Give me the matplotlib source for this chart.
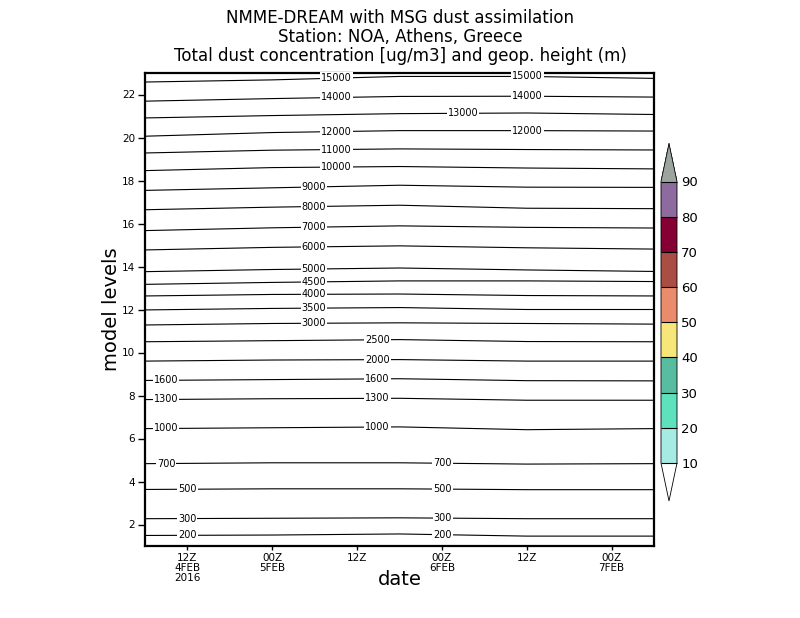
import numpy as np
import matplotlib
matplotlib.use("Agg")
import matplotlib.pyplot as plt
from matplotlib.colors import ListedColormap, BoundaryNorm
from matplotlib.cm import ScalarMappable

# time axis: hours after 06Z 4 Feb 2016
hours = [0, 18, 36, 54, 72]

# geopotential height contours (m) and the model level they sit on at each time
heights = [200, 300, 500, 700, 1000, 1300, 1600, 2000, 2500, 3000, 3500, 4000,
           4500, 5000, 6000, 7000, 8000, 9000, 10000, 11000, 12000, 13000,
           14000, 15000]
lev_200 = [1.49, 1.51, 1.56, 1.46, 1.46]
lev_300 = [2.27, 2.29, 2.31, 2.27, 2.27]
lev_500 = [3.63, 3.66, 3.66, 3.62, 3.62]
lev_700 = [4.83, 4.87, 4.87, 4.81, 4.83]
lev_1000 = [6.46, 6.50, 6.54, 6.41, 6.46]
lev_1300 = [7.81, 7.85, 7.87, 7.78, 7.78]
lev_1600 = [8.70, 8.74, 8.78, 8.69, 8.68]
lev_2000 = [9.60, 9.65, 9.67, 9.60, 9.60]
lev_2500 = [10.50, 10.55, 10.60, 10.51, 10.50]
lev_3000 = [11.28, 11.35, 11.38, 11.35, 11.32]
lev_3500 = [11.98, 12.05, 12.09, 12.00, 12.00]
lev_4000 = [12.63, 12.70, 12.72, 12.65, 12.63]
lev_4500 = [13.17, 13.26, 13.33, 13.33, 13.30]
lev_5000 = [13.76, 13.86, 13.93, 13.84, 13.77]
lev_6000 = [14.77, 14.89, 14.96, 14.87, 14.81]
lev_7000 = [15.67, 15.80, 15.89, 15.82, 15.79]
lev_8000 = [16.64, 16.76, 16.85, 16.71, 16.69]
lev_9000 = [17.54, 17.66, 17.78, 17.69, 17.68]
lev_10000 = [18.46, 18.60, 18.65, 18.58, 18.54]
lev_11000 = [19.28, 19.41, 19.47, 19.44, 19.42]
lev_12000 = [20.06, 20.23, 20.32, 20.32, 20.30]
lev_13000 = [20.91, 21.02, 21.11, 21.14, 21.07]
lev_14000 = [21.69, 21.81, 21.91, 21.92, 21.88]
lev_15000 = [22.58, 22.68, 22.84, 22.84, 22.75]
contour_levels = [lev_200, lev_300, lev_500, lev_700, lev_1000, lev_1300,
                  lev_1600, lev_2000, lev_2500, lev_3000, lev_3500, lev_4000,
                  lev_4500, lev_5000, lev_6000, lev_7000, lev_8000, lev_9000,
                  lev_10000, lev_11000, lev_12000, lev_13000, lev_14000,
                  lev_15000]

# dust colour scale (ug/m3)
dust_bounds = [10, 20, 30, 40, 50, 60, 70, 80, 90]
dust_colors = ['#a6eae4', '#5ee2be', '#58bca0', '#f7e67a', '#ea8c6c',
               '#aa4d44', '#850033', '#8e6b9e']

xtick_hours = [6, 18, 30, 42, 54, 66]
xtick_labels = ['12Z\n4FEB\n2016', '00Z\n5FEB', '12Z', '00Z\n6FEB', '12Z',
                '00Z\n7FEB']

# where GrADS put the contour labels (hours)
label_at = {200: [6.0, 42.1], 300: [6.0, 42.1], 500: [6.0, 42.1],
            700: [3.0, 42.1], 1000: [3.0, 32.9], 1300: [3.0, 32.9],
            1600: [3.0, 32.9], 2000: [32.9], 2500: [32.9],
            11000: [27.1], 10000: [27.1], 12000: [27.1, 54.1],
            13000: [45.0], 14000: [27.1, 54.1], 15000: [27.1, 54.1]}
for h in [3000, 3500, 4000, 4500, 5000, 6000, 7000, 8000, 9000]:
    label_at[h] = [23.9]

fig = plt.figure(figsize=(8, 6.18), dpi=100)
ax = fig.add_axes([145/800, 72/618, 509/800, 473/618])

for h, lv in zip(heights, contour_levels):
    ax.plot(hours, lv, color='black', lw=0.8)
    for xh in label_at.get(h, []):
        yl = np.interp(xh, hours, lv)
        ax.text(xh, yl, str(h), fontsize=7, ha='center', va='center',
                bbox=dict(facecolor='white', edgecolor='none', pad=0.6))

ax.set_xlim(0, 72)
ax.set_ylim(1, 23)
ax.set_yticks(range(2, 23, 2))
ax.set_xticks(xtick_hours)
ax.set_xticklabels(xtick_labels, linespacing=1.0)
ax.tick_params(axis='both', direction='out', labelsize=7.5, width=1)
ax.tick_params(axis='x', length=3, pad=2)
ax.tick_params(axis='y', length=5, pad=2)
for s in ax.spines.values():
    s.set_linewidth(1.6)

ax.set_xlabel('date', fontsize=14, labelpad=-9)
ax.set_ylabel('model levels', fontsize=14, labelpad=1)

fig.text(0.5, 1 - 18/618, 'NMME-DREAM with MSG dust assimilation',
         ha='center', va='center', fontsize=12)
fig.text(0.5, 1 - 37/618, 'Station: NOA, Athens, Greece',
         ha='center', va='center', fontsize=12)
fig.text(0.5, 1 - 56/618,
         'Total dust concentration [ug/m3] and geop. height (m)',
         ha='center', va='center', fontsize=12)

# colour bar (extensions drawn inside the axes box)
cmap = ListedColormap(dust_colors)
cmap.set_over('#9ca4a0')
cmap.set_under('white')
norm = BoundaryNorm(dust_bounds, cmap.N)
ext = 0.135
inner = 281.5
total = inner * (1 + 2 * ext)
cax = fig.add_axes([661/800, (618 - 463 - inner * ext)/618, 16/800,
                    total/618])
cb = fig.colorbar(ScalarMappable(norm=norm, cmap=cmap), cax=cax,
                  extend='both', extendfrac=ext, drawedges=True)
cb.set_ticks(dust_bounds)
cb.ax.tick_params(length=0, labelsize=9.5, pad=3)
cb.outline.set_linewidth(0.6)
cb.dividers.set_linewidth(0.8)

fig.savefig('out.png', dpi=100)
